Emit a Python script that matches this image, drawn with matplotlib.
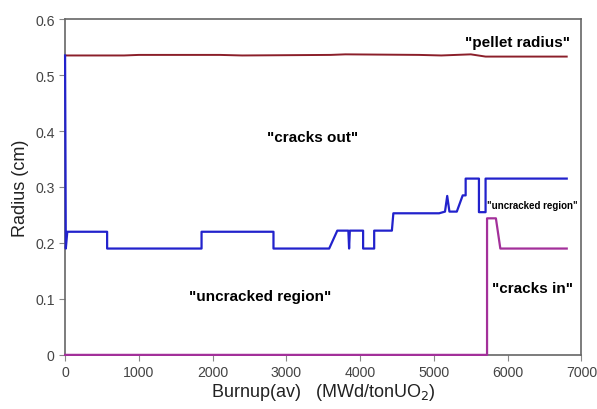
import matplotlib
matplotlib.use('Agg')
from matplotlib import pyplot as plt

plt.rcParams['font.family'] = ['Liberation Sans', 'DejaVu Sans']

# pellet radius
pellet_x = [0, 800, 1000, 2100, 2400, 3600, 3800, 4800, 5100, 5500, 5700, 6800]
pellet_y = [0.535, 0.535, 0.536, 0.536, 0.535, 0.536, 0.537, 0.536, 0.535, 0.537, 0.533, 0.533]

# outer boundary of the uncracked region
outer_x = [0, 10, 30, 570, 570, 1850, 1850, 2825, 2825, 3580, 3690, 3840, 3850, 3860,
           4040, 4040, 4190, 4190, 4430, 4450, 5070, 5150, 5180, 5210, 5310, 5390,
           5430, 5430, 5610, 5610, 5700, 5700, 6800]
outer_y = [0.535, 0.19, 0.22, 0.22, 0.19, 0.19, 0.22, 0.22, 0.19, 0.19, 0.222, 0.222, 0.19, 0.222,
           0.222, 0.19, 0.19, 0.222, 0.222, 0.253, 0.253, 0.256, 0.284, 0.256, 0.256, 0.285,
           0.285, 0.315, 0.315, 0.255, 0.255, 0.315, 0.315]

# inner boundary of the uncracked region
inner_x = [0, 5720, 5720, 5840, 5900, 6800]
inner_y = [0.0, 0.0, 0.244, 0.244, 0.19, 0.19]

f, ax = plt.subplots(figsize=(5.97, 4.10), dpi=100)
f.subplots_adjust(left=0.109, right=0.974, bottom=0.132, top=0.951)

ax.plot(pellet_x, pellet_y, color='#8b1f2a', lw=1.4)
ax.plot(outer_x, outer_y, color='#2222cc', lw=1.6, clip_on=False, zorder=3)
ax.plot(inner_x, inner_y, color='#a3309a', lw=1.6, clip_on=False, zorder=3)

ax.set_xlim(0, 7000)
ax.set_ylim(0, 0.6)
ax.set_xticks([0, 1000, 2000, 3000, 4000, 5000, 6000, 7000])
ax.set_yticks([0, 0.1, 0.2, 0.3, 0.4, 0.5, 0.6])
ax.set_yticklabels(['0', '0.1', '0.2', '0.3', '0.4', '0.5', '0.6'])
ax.tick_params(colors='#444444', labelsize=10.2, length=4, color='#888888')
for s in ax.spines.values():
    s.set_color('#666666')
    s.set_linewidth(1.2)

ax.set_xlabel(r'Burnup(av)   (MWd/tonUO$_2$)', fontsize=13, color='#222222', labelpad=1)
ax.set_ylabel('Radius (cm)', fontsize=13, color='#222222', labelpad=4)

ax.text(6850, 0.559, '"pellet radius"', fontsize=11, weight='bold', ha='right', va='center')
ax.text(3360, 0.39, '"cracks out"', fontsize=11, weight='bold', ha='center', va='center')
ax.text(2640, 0.105, '"uncracked region"', fontsize=11, weight='bold', ha='center', va='center')
ax.text(6340, 0.12, '"cracks in"', fontsize=11, weight='bold', ha='center', va='center')
ax.text(6330, 0.268, '"uncracked region"', fontsize=7, weight='bold', ha='center', va='center')

plt.savefig('out.png', dpi=100)
